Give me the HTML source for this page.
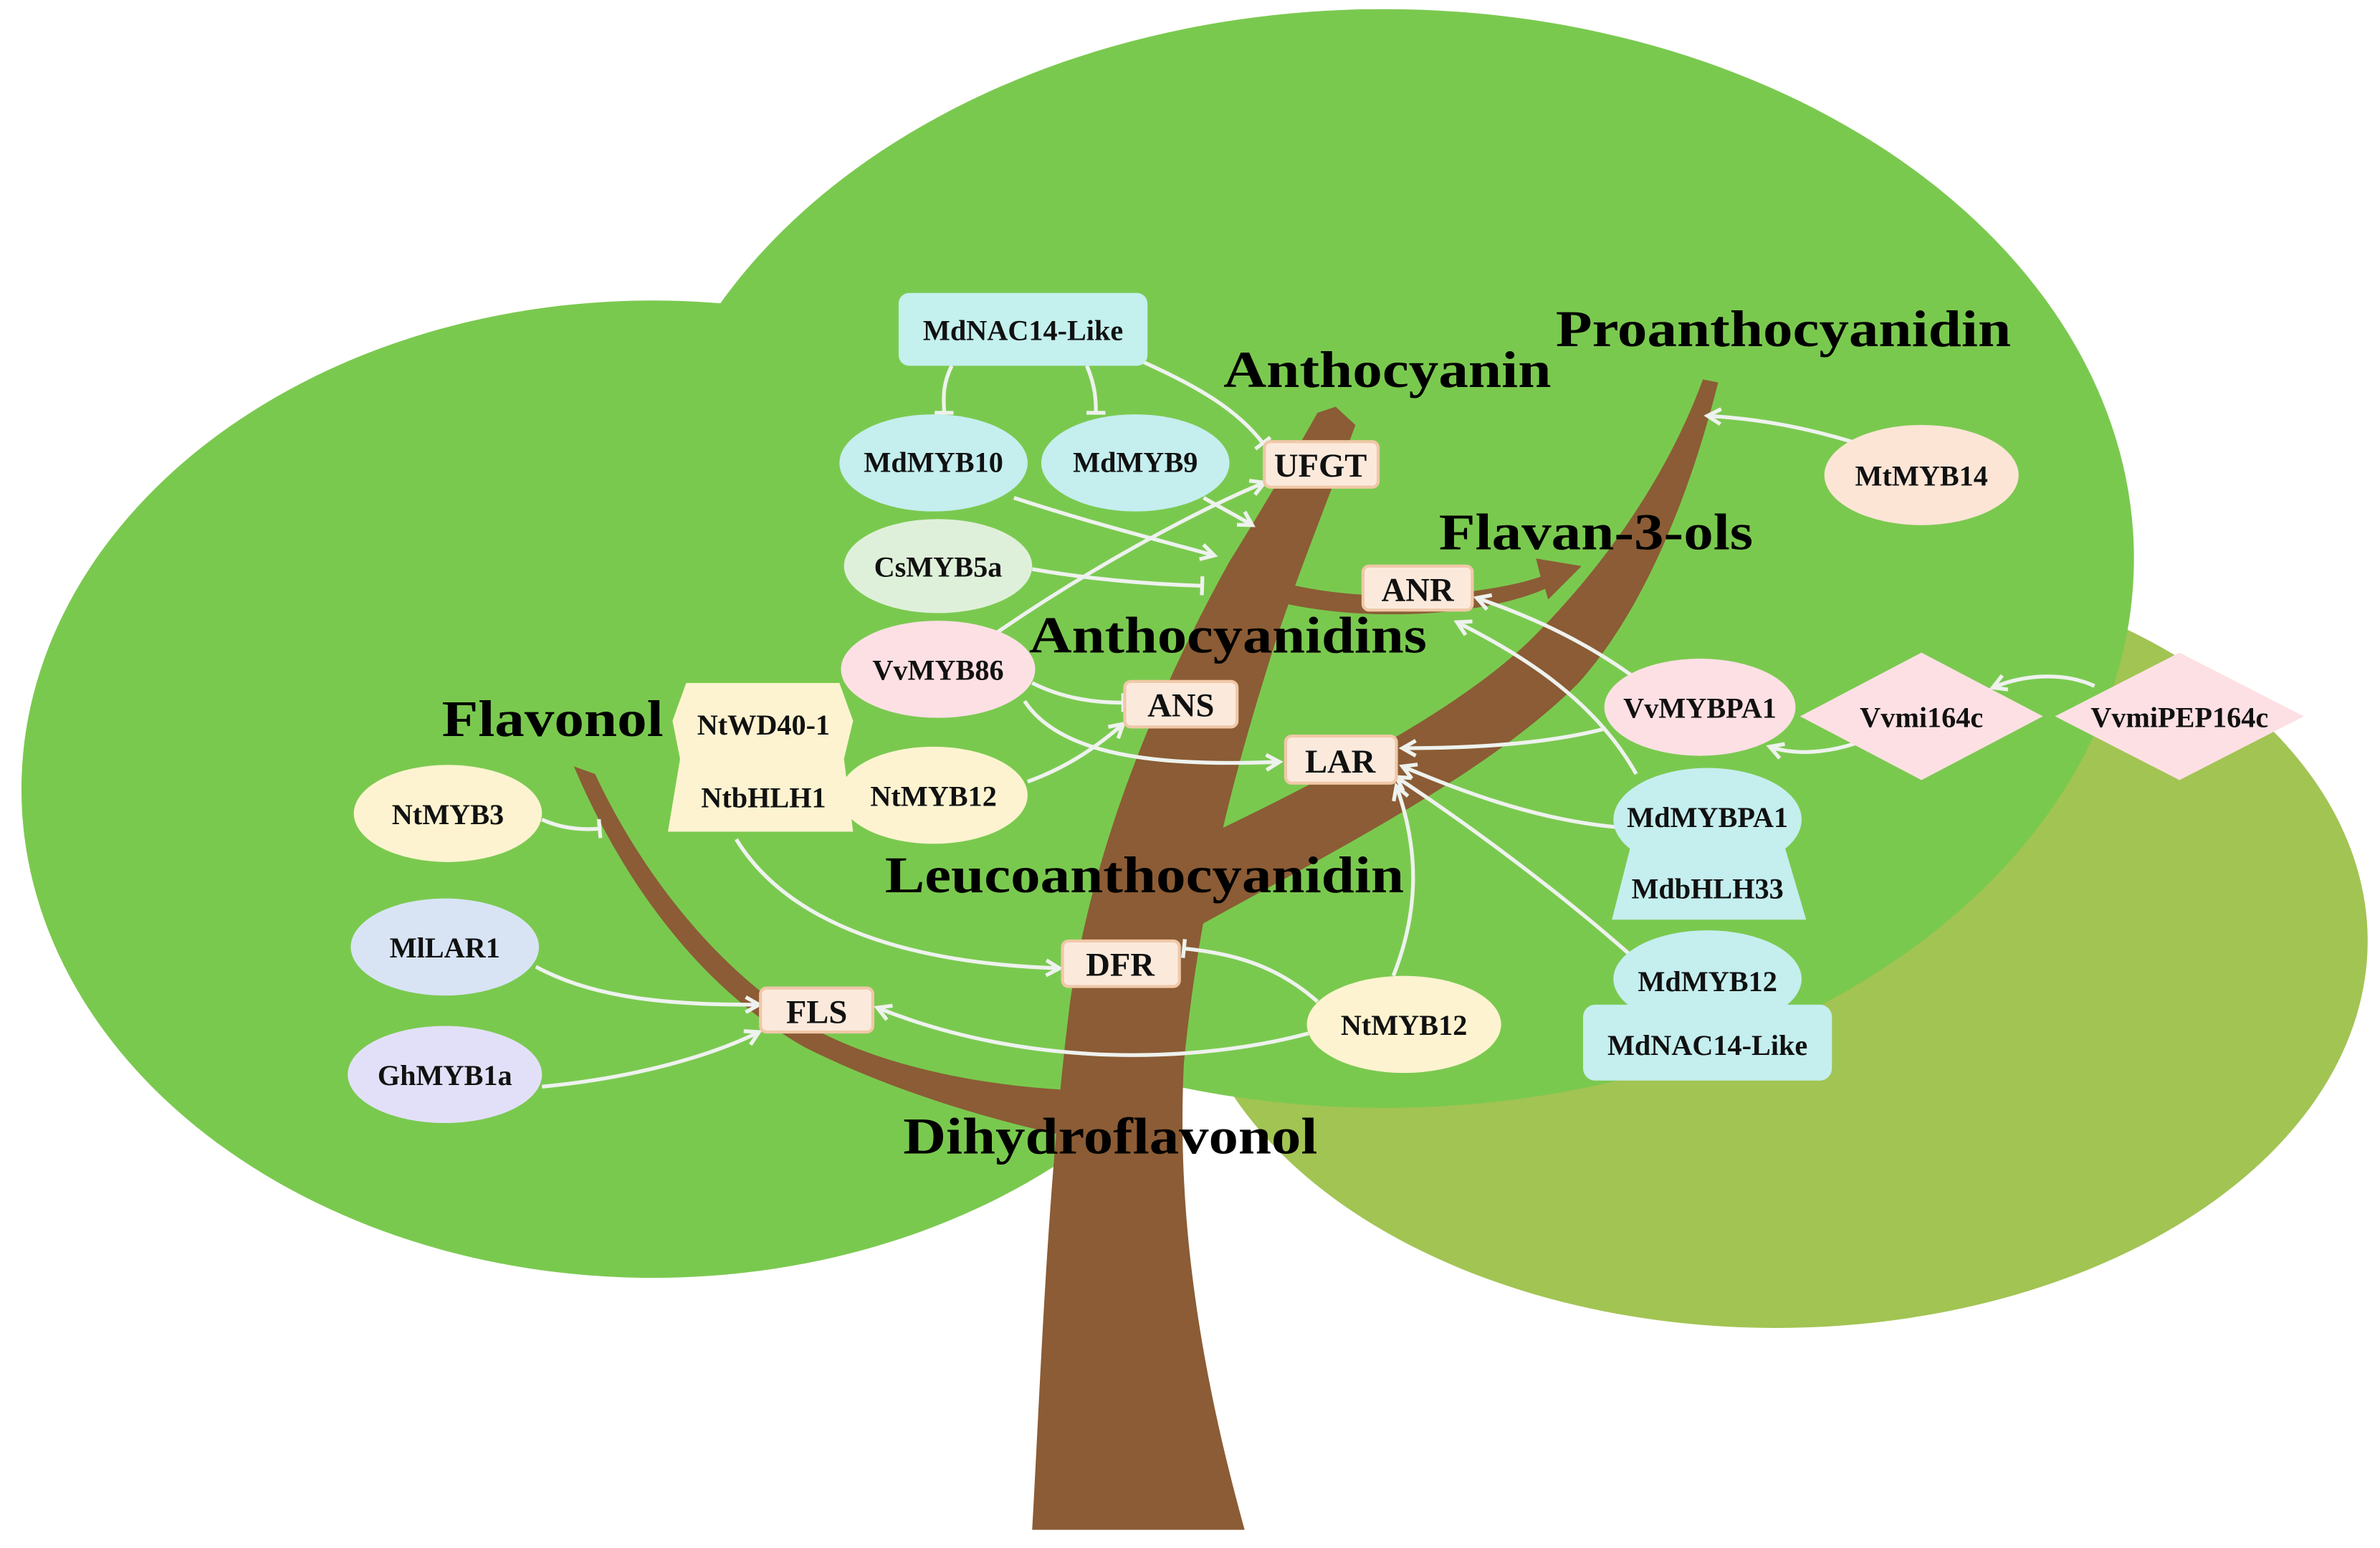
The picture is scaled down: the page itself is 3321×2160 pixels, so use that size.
<!DOCTYPE html>
<html><head><meta charset="utf-8"><style>html,body{margin:0;padding:0;background:#fff}svg{display:block}</style></head><body>
<svg width="3321" height="2160" viewBox="0 0 1568 1020" xmlns="http://www.w3.org/2000/svg" font-family="'Liberation Serif',serif" font-weight="bold">
<defs>
<marker id="a" viewBox="0 0 10 10" refX="8" refY="5" markerWidth="5" markerHeight="5" orient="auto"><path d="M1,1 L8,5 L1,9" fill="none" stroke="#eef2ee" stroke-width="2"/></marker>
<marker id="t" viewBox="0 0 10 10" refX="5" refY="5" markerWidth="5" markerHeight="5" orient="auto"><path d="M5,0 L5,10" stroke="#eef2ee" stroke-width="2"/></marker>
</defs>
<ellipse cx="1170" cy="620" rx="390" ry="255" fill="#a2c453"/>
<ellipse cx="430" cy="520" rx="416" ry="322" fill="#7ac94f"/>
<ellipse cx="912" cy="368" rx="494" ry="362" fill="#7ac94f"/>
<!-- trunk -->
<g fill="#8b5c35">
<path d="M680,1008 C686,900 690,780 705,660 C720,560 760,460 810,370 C835,330 855,295 868,272 L880,268 L893,280 C875,330 850,390 835,440 C810,520 790,600 780,700 C775,800 790,900 820,1008 Z"/>
<path d="M765,565 C860,520 960,470 1010,420 C1060,370 1100,310 1122,250 L1132,252 C1115,320 1085,400 1040,450 C980,510 880,560 790,610 Z"/>
<path d="M378,505 L392,510 C420,570 470,640 540,680 C590,705 650,715 700,718 L700,748 C640,735 580,715 530,690 C460,650 410,580 378,505 Z"/>
<path d="M838,382 C900,400 980,392 1015,380 L1012,368 L1042,373 L1020,395 L1018,388 C980,405 900,412 835,395 Z"/>
</g>
<!-- edges -->
<g fill="none" stroke="#eef2ee" stroke-width="2.5">
<path d="M627,241 C620,255 622,265 622,272" marker-end="url(#t)"/>
<path d="M716,241 C722,255 722,265 722,272" marker-end="url(#t)"/>
<path d="M752,238 C790,255 815,270 832,292" marker-end="url(#t)"/>
<path d="M668,328 C720,345 760,355 800,366" marker-end="url(#a)"/>
<path d="M793,328 C805,335 815,340 825,346" marker-end="url(#a)"/>
<path d="M680,375 C720,382 760,385 792,386" marker-end="url(#t)"/>
<path d="M655,418 C710,380 780,340 833,318" marker-end="url(#a)"/>
<path d="M680,450 C700,460 720,463 740,463" marker-end="url(#t)"/>
<path d="M675,462 C700,500 770,505 843,502" marker-end="url(#a)"/>
<path d="M677,515 C705,505 725,490 740,477" marker-end="url(#a)"/>
<path d="M357,540 C370,546 383,547 395,546" marker-end="url(#t)"/>
<path d="M485,553 C520,610 600,635 698,638" marker-end="url(#a)"/>
<path d="M353,637 C395,660 450,662 500,662" marker-end="url(#a)"/>
<path d="M357,716 C420,710 470,695 500,680" marker-end="url(#a)"/>
<path d="M862,681 C790,700 680,705 578,664" marker-end="url(#a)"/>
<path d="M868,660 C840,635 810,628 780,625" marker-end="url(#t)"/>
<path d="M918,643 C935,600 935,560 920,518" marker-end="url(#a)"/>
<path d="M1220,291 C1190,282 1160,276 1125,274" marker-end="url(#a)"/>
<path d="M1075,445 C1040,420 1005,405 973,394" marker-end="url(#a)"/>
<path d="M1058,480 C1020,490 970,493 924,493" marker-end="url(#a)"/>
<path d="M1078,510 C1050,460 1000,430 960,410" marker-end="url(#a)"/>
<path d="M1065,545 C1010,540 960,520 924,505" marker-end="url(#a)"/>
<path d="M1075,630 C1030,590 970,545 920,512" marker-end="url(#a)"/>
<path d="M1222,490 C1200,497 1180,497 1166,492" marker-end="url(#a)"/>
<path d="M1380,452 C1360,443 1335,444 1313,453" marker-end="url(#a)"/>
</g>
<!-- nodes -->
<rect x="592" y="193" width="164" height="48" rx="7" fill="#c4f0ee"/>
<ellipse cx="615" cy="305" rx="62" ry="32" fill="#c5eeee"/>
<ellipse cx="748" cy="305" rx="62" ry="32" fill="#c5eeee"/>
<ellipse cx="618" cy="373" rx="62" ry="31" fill="#dff0da"/>
<ellipse cx="618" cy="441" rx="64" ry="32" fill="#fde0e4"/>
<path d="M452,450 L553,450 L562,475 L556,500 L562,548 L440,548 L448,500 L443,475 Z" fill="#fdf3d0"/>
<ellipse cx="615" cy="524" rx="62" ry="32" fill="#fdf3d0"/>
<ellipse cx="295" cy="536" rx="62" ry="32" fill="#fdf3d0"/>
<ellipse cx="293" cy="624" rx="62" ry="32" fill="#d8e4f4"/>
<ellipse cx="293" cy="708" rx="64" ry="32" fill="#e2e0f8"/>
<ellipse cx="925" cy="675" rx="64" ry="32" fill="#fdf3d0"/>
<ellipse cx="1266" cy="313" rx="64" ry="33" fill="#fde5d6"/>
<ellipse cx="1120" cy="466" rx="63" ry="32" fill="#fde0e4"/>
<path d="M1266,430 L1346,472 L1266,514 L1186,472 Z" fill="#fde0e4"/>
<path d="M1436,430 L1518,472 L1436,514 L1354,472 Z" fill="#fde0e4"/>
<ellipse cx="1125" cy="540" rx="62" ry="34" fill="#c5eeee"/>
<path d="M1075,555 L1175,555 L1190,606 L1062,606 Z" fill="#c5eeee"/>
<ellipse cx="1125" cy="645" rx="62" ry="32" fill="#c5eeee"/>
<rect x="1043" y="662" width="164" height="50" rx="8" fill="#c5eeee"/>
<g fill="#fbeadc" stroke="#f0c8a8" stroke-width="2">
<rect x="833" y="291" width="75" height="30" rx="4"/>
<rect x="898" y="373" width="72" height="29" rx="4"/>
<rect x="741" y="449" width="74" height="30" rx="4"/>
<rect x="847" y="485" width="73" height="31" rx="4"/>
<rect x="501" y="651" width="74" height="29" rx="4"/>
<rect x="700" y="620" width="77" height="30" rx="4"/>
</g>
<!-- node labels -->
<g font-size="19" text-anchor="middle" fill="#111">
<text x="674" y="224">MdNAC14-Like</text>
<text x="615" y="311">MdMYB10</text>
<text x="748" y="311">MdMYB9</text>
<text x="618" y="380">CsMYB5a</text>
<text x="618" y="448">VvMYB86</text>
<text x="503" y="484">NtWD40-1</text>
<text x="503" y="532">NtbHLH1</text>
<text x="615" y="531">NtMYB12</text>
<text x="295" y="543">NtMYB3</text>
<text x="293" y="631">MlLAR1</text>
<text x="293" y="715">GhMYB1a</text>
<text x="925" y="682">NtMYB12</text>
<text x="1266" y="320">MtMYB14</text>
<text x="1120" y="473">VvMYBPA1</text>
<text x="1266" y="479">Vvmi164c</text>
<text x="1436" y="479">VvmiPEP164c</text>
<text x="1125" y="545">MdMYBPA1</text>
<text x="1125" y="592">MdbHLH33</text>
<text x="1125" y="653">MdMYB12</text>
<text x="1125" y="695">MdNAC14-Like</text>
<g font-size="22">
<text x="870" y="314">UFGT</text>
<text x="934" y="396">ANR</text>
<text x="778" y="472">ANS</text>
<text x="883" y="509">LAR</text>
<text x="538" y="674">FLS</text>
<text x="738" y="643">DFR</text>
</g>
</g>
<!-- big labels -->
<g font-size="34" fill="#000">
<text x="1025" y="228" textLength="300" lengthAdjust="spacingAndGlyphs">Proanthocyanidin</text>
<text x="806" y="255" textLength="216" lengthAdjust="spacingAndGlyphs">Anthocyanin</text>
<text x="948" y="362" textLength="207" lengthAdjust="spacingAndGlyphs">Flavan-3-ols</text>
<text x="678" y="430" textLength="262" lengthAdjust="spacingAndGlyphs">Anthocyanidins</text>
<text x="291" y="485" textLength="146" lengthAdjust="spacingAndGlyphs">Flavonol</text>
<text x="583" y="588" textLength="342" lengthAdjust="spacingAndGlyphs">Leucoanthocyanidin</text>
<text x="595" y="760" textLength="273" lengthAdjust="spacingAndGlyphs">Dihydroflavonol</text>
</g>
</svg>
</body></html>
